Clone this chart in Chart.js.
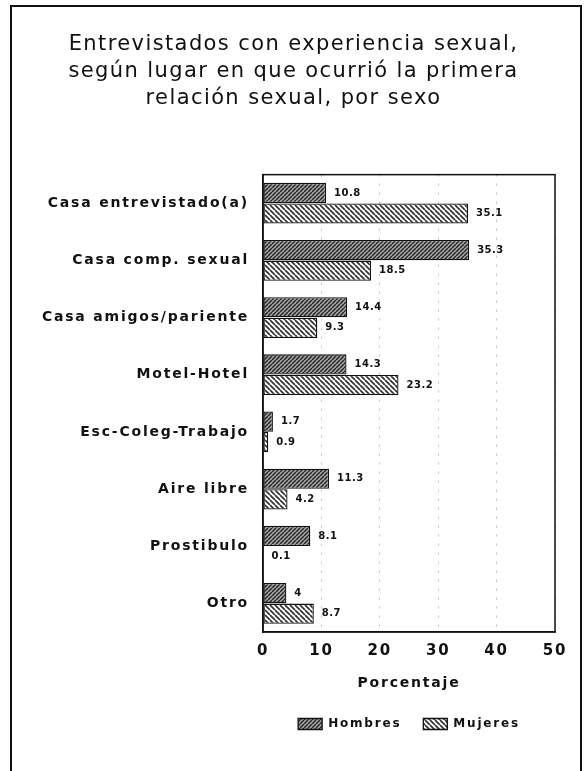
<!DOCTYPE html>
<html>
<head>
<meta charset="utf-8">
<script src="https://cdn.jsdelivr.net/npm/chart.js@4"></script>
<style>
  html, body { margin: 0; padding: 0; background: #fff; }
  canvas { display: block; }
</style>
</head>
<body>
<canvas id="lugarChart" width="587" height="771"></canvas>
<script>
const categories = [
    "Casa entrevistado(a)",
    "Casa comp. sexual",
    "Casa amigos/pariente",
    "Motel-Hotel",
    "Esc-Coleg-Trabajo",
    "Aire libre",
    "Prostibulo",
    "Otro"
];
const hombres = [10.8, 35.3, 14.4, 14.3, 1.7, 11.3, 8.1, 4];
const mujeres = [35.1, 18.5, 9.3, 23.2, 0.9, 4.2, 0.1, 8.7];
const seriesNames = ["Hombres", "Mujeres"];
const xTicks = [0, 10, 20, 30, 40, 50];

// hatch fills like the printed chart
function hatch(base, line, size, width, forward) {
    const c = document.createElement("canvas");
    c.width = size;
    c.height = size;
    const g = c.getContext("2d");
    g.fillStyle = base;
    g.fillRect(0, 0, size, size);
    g.strokeStyle = line;
    g.lineWidth = width;
    g.beginPath();
    for (let k = -1; k <= 1; k++) {
        if (forward) {
            g.moveTo(k * size, size);
            g.lineTo(k * size + size, 0);
        } else {
            g.moveTo(k * size, 0);
            g.lineTo(k * size + size, size);
        }
    }
    g.stroke();
    return g.createPattern(c, "repeat");
}

const ctx = document.getElementById("lugarChart").getContext("2d");
const darkHatch = hatch("#a8a8a8", "#262626", 4, 1.5, true);
const lightHatch = hatch("#ffffff", "#333333", 5, 1.7, false);

const spacing = {
    id: "spacing",
    beforeUpdate(chart) { chart.ctx.letterSpacing = "1.8px"; },
    beforeDraw(chart) { chart.ctx.letterSpacing = "1.8px"; },
    afterLayout(chart) {
        // title sits centred on the outer frame, with tighter spacing
        const t = chart.titleBlock;
        if (t && !t._wrapped) {
            const draw = t.draw.bind(t);
            t.draw = function () {
                const c = chart.ctx;
                c.save();
                c.letterSpacing = "1.4px";
                c.translate(10, 0);
                draw();
                c.restore();
            };
            t._wrapped = true;
        }
    }
};

const frame = {
    id: "frame",
    beforeDraw(chart) {
        const c = chart.ctx;
        c.save();
        c.fillStyle = "#fff";
        c.fillRect(0, 0, chart.width, chart.height);
        c.strokeStyle = "#111";
        c.lineWidth = 2;
        c.beginPath();
        c.moveTo(11, 800);
        c.lineTo(11, 6);
        c.lineTo(581, 6);
        c.lineTo(581, 800);
        c.stroke();
        c.restore();
    },
    afterDraw(chart) {
        const a = chart.chartArea;
        const c = chart.ctx;
        c.save();
        c.strokeStyle = "#111";
        c.lineWidth = 1.5;
        c.strokeRect(a.left, a.top, a.right - a.left, a.bottom - a.top);
        c.restore();
    }
};

const valueLabels = {
    id: "valueLabels",
    afterDatasetsDraw(chart) {
        const c = chart.ctx;
        c.save();
        c.letterSpacing = "0.5px";
        c.font = "bold 10px 'DejaVu Sans'";
        c.fillStyle = "#111";
        c.textBaseline = "middle";
        c.textAlign = "left";
        chart.data.datasets.forEach((ds, i) => {
            chart.getDatasetMeta(i).data.forEach((bar, j) => {
                c.fillText(String(ds.data[j]), bar.x + 8, bar.y);
            });
        });
        c.restore();
    }
};

new Chart(ctx, {
    type: "bar",
    data: {
        labels: categories,
        datasets: [
            {
                label: seriesNames[0],
                data: hombres,
                backgroundColor: darkHatch,
                borderColor: "#111",
                borderWidth: 1.3,
                borderSkipped: false
            },
            {
                label: seriesNames[1],
                data: mujeres,
                backgroundColor: lightHatch,
                borderColor: "#111",
                borderWidth: 1.3,
                borderSkipped: false
            }
        ]
    },
    options: {
        responsive: false,
        animation: false,
        indexAxis: "y",
        categoryPercentage: 0.72,
        barPercentage: 0.98,
        layout: { padding: { top: 31, left: 12, right: 32, bottom: 31 } },
        scales: {
            x: {
                min: 0,
                max: 50,
                afterBuildTicks(scale) {
                    scale.ticks = xTicks.map(v => ({ value: v }));
                },
                afterFit(scale) { scale.height = 64; },
                grid: {
                    color: "rgba(0,0,0,0.25)",
                    drawTicks: false
                },
                border: { color: "#111", width: 1.5, dash: [2, 7] },
                ticks: {
                    color: "#111",
                    padding: 10,
                    font: { family: "'DejaVu Sans'", size: 15, weight: "bold" }
                },
                title: {
                    display: true,
                    text: "Porcentaje",
                    color: "#111",
                    padding: { top: 13 },
                    font: { family: "'DejaVu Sans'", size: 14, weight: "bold" }
                }
            },
            y: {
                afterFit(scale) { scale.width = 251; },
                grid: { display: false, drawTicks: false },
                border: { color: "#111", width: 1.5 },
                ticks: {
                    color: "#111",
                    padding: 14,
                    font: { family: "'DejaVu Sans'", size: 14, weight: "bold" }
                }
            }
        },
        plugins: {
            title: {
                display: true,
                text: [
                    "Entrevistados con experiencia sexual,",
                    "según lugar en que ocurrió la primera",
                    "relación sexual, por sexo"
                ],
                color: "#111",
                font: { family: "'DejaVu Sans'", size: 21, weight: "normal", lineHeight: 1.28 },
                padding: { top: 0, bottom: 63 }
            },
            legend: {
                position: "bottom",
                fullSize: false,
                labels: {
                    color: "#111",
                    boxWidth: 24,
                    boxHeight: 11,
                    padding: 22,
                    font: { family: "'DejaVu Sans'", size: 12, weight: "bold" }
                }
            },
            tooltip: { enabled: false }
        }
    },
    plugins: [spacing, frame, valueLabels]
});
</script>
</body>
</html>
